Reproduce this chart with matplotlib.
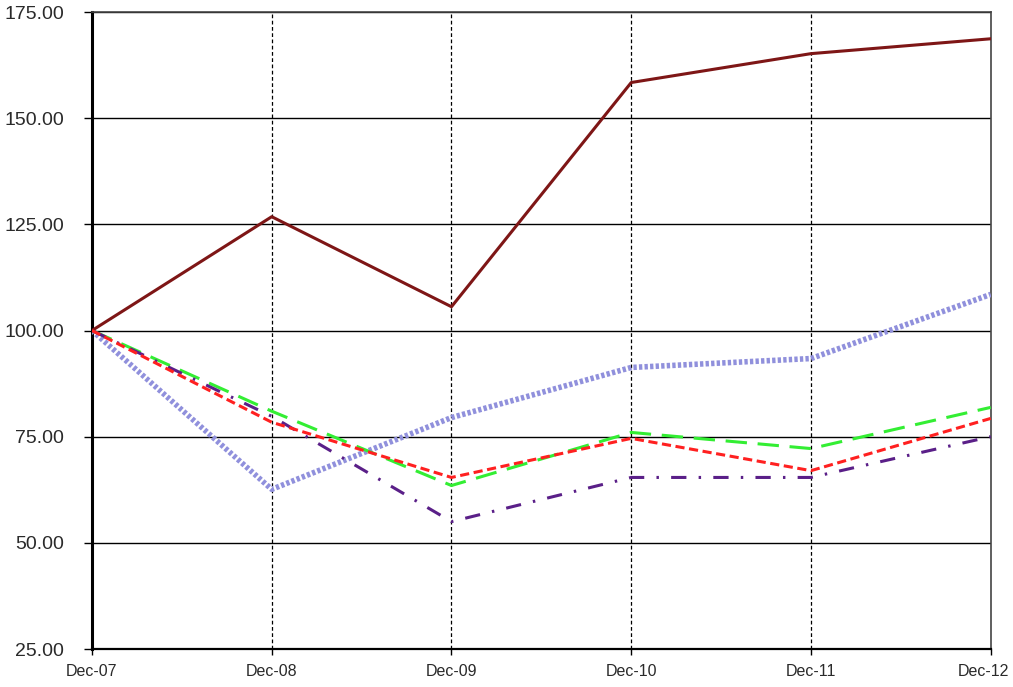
import matplotlib
matplotlib.use("Agg")
import matplotlib.pyplot as plt
from matplotlib.transforms import ScaledTranslation

# data
dates = ['Dec-07', 'Dec-08', 'Dec-09', 'Dec-10', 'Dec-11', 'Dec-12']
brown = [100, 126.8, 105.6, 158.4, 165.2, 168.7]
blue = [100, 62.6, 79.5, 91.3, 93.4, 108.5]
green = [100, 81.0, 63.5, 76.0, 72.2, 81.9]
red = [100, 78.4, 65.4, 74.6, 67.0, 79.3]
purple = [100, 79.8, 55.0, 65.4, 65.4, 75.0]

yticks = [25, 50, 75, 100, 125, 150, 175]

fig = plt.figure(figsize=(10.13, 6.87), dpi=100)
ax = fig.add_axes([0.0908, 0.0553, 0.8872, 0.9272])

x = list(range(len(dates)))

# grid first
for yy in yticks:
    ax.axhline(yy, color='black', lw=1.0, zorder=1)
for xx in x[1:-1]:
    ax.axvline(xx, color='black', lw=0.9, ls=(0, (3, 2)), zorder=1)

ax.plot(x, blue, color='#9090dc', lw=4, ls=(0, (0.6, 0.4)), zorder=3)
ax.plot(x, brown, color='#7e1616', lw=2.2, zorder=4)
ax.plot(x, green, color='#33ee33', lw=2.2, ls=(0, (7, 3.5)), zorder=3)
ax.plot(x, red, color='#ff2020', lw=2.2, ls=(0, (3, 1.5)), zorder=4)
ax.plot(x, purple, color='#5a1f88', lw=2.2, ls=(0, (5, 4, 0.8, 4)), zorder=3)

ax.set_xlim(0, 5)
ax.set_ylim(25, 175)
ax.set_yticks(yticks)
ax.set_yticklabels(['%.2f' % v for v in yticks], fontsize=14, color='#2a2a2a',
                   family='Liberation Sans')
ax.set_xticks(x)
ax.set_xticklabels(dates, fontsize=11.5, color='#2a2a2a', family='Liberation Sans')
ax.tick_params(axis='y', length=6, width=1, pad=14, direction='out')
ax.tick_params(axis='x', length=4, width=1, pad=7, direction='out')

# last date label sits a little left of its tick
last = ax.get_xticklabels()[-1]
last.set_transform(last.get_transform() + ScaledTranslation(-7 / 100, 0, fig.dpi_scale_trans))

ax.spines['left'].set_linewidth(2.2)
ax.spines['left'].set_color('black')
ax.spines['bottom'].set_linewidth(1.6)
ax.spines['bottom'].set_color('black')
ax.spines['top'].set_color('#444444')
ax.spines['right'].set_color('#444444')
ax.spines['top'].set_linewidth(1.2)
ax.spines['right'].set_linewidth(1.2)

fig.savefig('out.png', dpi=100)
